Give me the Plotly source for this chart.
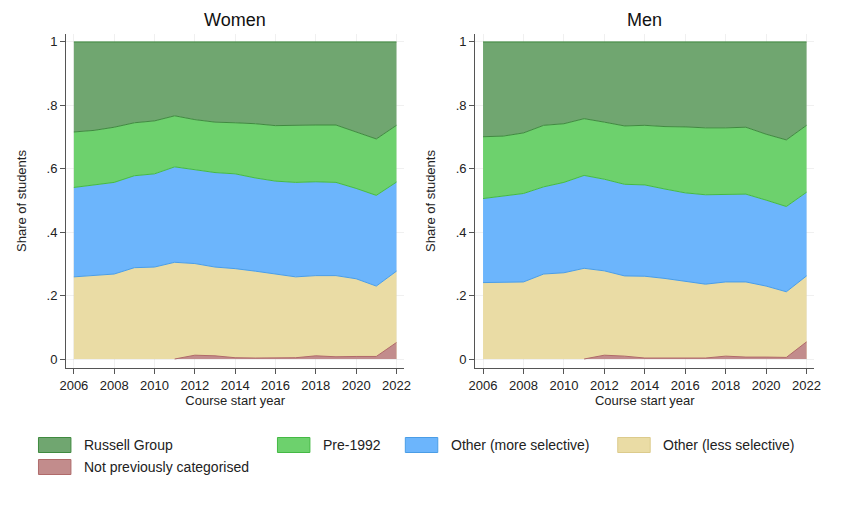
import numpy as np
import plotly.graph_objects as go

years = list(range(2006, 2023))

categories = ["Russell Group", "Pre-1992", "Other (more selective)",
              "Other (less selective)", "Not previously categorised"]

# Shares of students by institution type
women_russell = [0.284, 0.279, 0.269, 0.255, 0.249, 0.233, 0.245, 0.253, 0.255, 0.258, 0.264, 0.262, 0.262, 0.262, 0.285, 0.306, 0.263]
women_pre1992 = [0.175, 0.171, 0.174, 0.167, 0.167, 0.161, 0.157, 0.159, 0.161, 0.171, 0.175, 0.181, 0.179, 0.181, 0.177, 0.178, 0.179]
women_more = [0.282, 0.286, 0.289, 0.290, 0.294, 0.301, 0.297, 0.298, 0.299, 0.294, 0.292, 0.298, 0.296, 0.294, 0.285, 0.286, 0.281]
women_less = [0.259, 0.264, 0.268, 0.288, 0.290, 0.305, 0.289, 0.280, 0.281, 0.274, 0.266, 0.255, 0.253, 0.256, 0.245, 0.222, 0.225]
women_notcat = [None, None, None, None, None, 0, 0.012, 0.010, 0.004, 0.003, 0.003, 0.004, 0.010, 0.007, 0.008, 0.008, 0.052]

men_russell = [0.299, 0.297, 0.287, 0.263, 0.258, 0.242, 0.253, 0.265, 0.263, 0.267, 0.268, 0.271, 0.271, 0.269, 0.291, 0.309, 0.263]
men_pre1992 = [0.195, 0.190, 0.191, 0.194, 0.185, 0.179, 0.180, 0.184, 0.188, 0.197, 0.208, 0.211, 0.209, 0.211, 0.208, 0.210, 0.211]
men_more = [0.265, 0.272, 0.279, 0.275, 0.285, 0.293, 0.289, 0.289, 0.288, 0.282, 0.278, 0.282, 0.277, 0.277, 0.271, 0.269, 0.264]
men_less = [0.241, 0.241, 0.243, 0.268, 0.272, 0.286, 0.266, 0.253, 0.258, 0.251, 0.243, 0.233, 0.234, 0.237, 0.224, 0.207, 0.208]
men_notcat = [None, None, None, None, None, 0, 0.012, 0.009, 0.003, 0.003, 0.003, 0.003, 0.009, 0.006, 0.006, 0.005, 0.054]

xtick_vals = list(range(2006, 2023, 2))
ytick_vals = [0, 0.2, 0.4, 0.6, 0.8, 1]
ytick_text = ["0", ".2", ".4", ".6", ".8", "1"]

fills = {
    "Russell Group": "#70a670",
    "Pre-1992": "#6dd16d",
    "Other (more selective)": "#6cb5fc",
    "Other (less selective)": "#eadca5",
    "Not previously categorised": "#c28c8c",
}
lines = {
    "Russell Group": "#3f8a3f",
    "Pre-1992": "#44b944",
    "Other (more selective)": "#4a9de6",
    "Other (less selective)": "#dccb8c",
    "Not previously categorised": "#b06a6a",
}
# colour of the boundary line at the top of each band (outline of the band above it)
top_line = {
    "Other (less selective)": lines["Other (more selective)"],
    "Other (more selective)": lines["Pre-1992"],
    "Pre-1992": lines["Russell Group"],
    "Russell Group": lines["Russell Group"],
}

panels = [
    ("x", "y", {"Russell Group": women_russell, "Pre-1992": women_pre1992,
                "Other (more selective)": women_more, "Other (less selective)": women_less,
                "Not previously categorised": women_notcat}),
    ("x2", "y2", {"Russell Group": men_russell, "Pre-1992": men_pre1992,
                  "Other (more selective)": men_more, "Other (less selective)": men_less,
                  "Not previously categorised": men_notcat}),
]

fig = go.Figure()
for xa, ya, data in panels:
    notcat = np.array([0 if v is None else v for v in data["Not previously categorised"]])
    cum = notcat.copy()
    first = True
    for cat in ["Other (less selective)", "Other (more selective)", "Pre-1992", "Russell Group"]:
        cum = cum + np.array(data[cat])
        fig.add_trace(go.Scatter(
            x=years, y=cum.round(4), name=cat, xaxis=xa, yaxis=ya, mode="lines",
            line=dict(color=top_line[cat], width=1),
            fill="tozeroy" if first else "tonexty", fillcolor=fills[cat],
            showlegend=False, hoverinfo="skip",
        ))
        first = False
    # Not previously categorised: only present from 2011, drawn on top at the bottom
    nx = [y for y, v in zip(years, data["Not previously categorised"]) if v is not None]
    ny = [v for v in data["Not previously categorised"] if v is not None]
    fig.add_trace(go.Scatter(
        x=nx, y=ny, name="Not previously categorised", xaxis=xa, yaxis=ya,
        mode="lines", line=dict(color=lines["Not previously categorised"], width=1),
        fill="tozeroy", fillcolor=fills["Not previously categorised"],
        showlegend=False, hoverinfo="skip",
    ))

font = "Liberation Sans, Arial, sans-serif"
axis_common = dict(showline=True, linecolor="#555555", linewidth=1,
                   ticks="outside", ticklen=5, tickcolor="#555555",
                   showgrid=True, gridcolor="rgba(205,205,205,0.3)", gridwidth=1,
                   layer="above traces",
                   zeroline=False, tickfont=dict(size=13, color="#222222"))

W, H = 848, 508
ydom = [1 - 368 / H, 1 - 34 / H]

annotations = [
    dict(text="Women", x=(60 + 404) / 2 / W, y=1 - 20 / H, xref="paper",
         yref="paper", showarrow=False, font=dict(size=18, color="#111111"),
         xanchor="center", yanchor="middle"),
    dict(text="Men", x=(476 + 821) / 2 / W, y=1 - 20 / H, xref="paper",
         yref="paper", showarrow=False, font=dict(size=18, color="#111111"),
         xanchor="center", yanchor="middle"),
]
shapes = []

# Legend (key boxes + labels), laid out in columns as in the original
legend_slots = {  # category: (swatch left px, row center px)
    "Russell Group": (32, 445),
    "Pre-1992": (275, 445),
    "Other (more selective)": (405, 445),
    "Other (less selective)": (621, 445),
    "Not previously categorised": (32, 467),
}
for cat in categories:
    sx, cy = legend_slots[cat]
    shapes.append(dict(type="rect", xref="paper", yref="paper",
                       x0=sx / W, x1=(sx + 33) / W,
                       y0=1 - (cy + 7.5) / H, y1=1 - (cy - 7.5) / H,
                       fillcolor=fills[cat], line=dict(color=lines[cat], width=1)))
    annotations.append(dict(text=cat, x=(sx + 44) / W, y=1 - cy / H,
                            xref="paper", yref="paper", showarrow=False,
                            xanchor="left", yanchor="middle",
                            font=dict(size=14, color="#222222")))

fig.update_layout(
    width=W, height=H, autosize=False,
    margin=dict(l=0, r=0, t=0, b=0),
    paper_bgcolor="white", plot_bgcolor="white",
    font=dict(family=font, color="#222222"),
    showlegend=False,
    xaxis=dict(domain=[60 / W, 404 / W], range=[2005.61, 2022.39],
               tickvals=xtick_vals, anchor="y",
               title=dict(text="Course start year", font=dict(size=13), standoff=4),
               **axis_common),
    yaxis=dict(domain=ydom, range=[-0.0284, 1.025], tickvals=ytick_vals,
               ticktext=ytick_text, anchor="x",
               title=dict(text="Share of students", font=dict(size=13), standoff=17),
               **axis_common),
    xaxis2=dict(domain=[476 / W, 821 / W], range=[2005.61, 2022.39],
                tickvals=xtick_vals, anchor="y2",
                title=dict(text="Course start year", font=dict(size=13), standoff=4),
                **axis_common),
    yaxis2=dict(domain=ydom, range=[-0.0284, 1.025], tickvals=ytick_vals,
                ticktext=ytick_text, anchor="x2",
                title=dict(text="Share of students", font=dict(size=13), standoff=17),
                **axis_common),
    annotations=annotations,
    shapes=shapes,
)

fig.write_html("out.html")
